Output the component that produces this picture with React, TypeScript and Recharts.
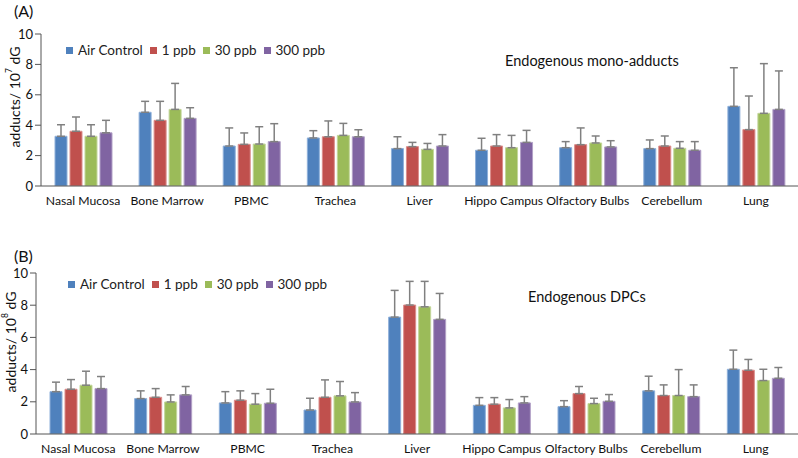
import React from 'react';
import { BarChart, Bar, XAxis, YAxis, ErrorBar, Legend } from 'recharts';

const categories = ['Nasal Mucosa', 'Bone Marrow', 'PBMC', 'Trachea', 'Liver', 'Hippo Campus', 'Olfactory Bulbs', 'Cerebellum', 'Lung'];
const seriesNames = ['Air Control', '1 ppb', '30 ppb', '300 ppb'];
const yTicks = [0, 2, 4, 6, 8, 10];

const monoAir = [3.27, 4.85, 2.63, 3.16, 2.46, 2.35, 2.52, 2.46, 5.24];
const monoAirErr = [0.76, 0.72, 1.19, 0.48, 0.78, 0.79, 0.40, 0.57, 2.54];
const mono1 = [3.6, 4.32, 2.74, 3.24, 2.59, 2.63, 2.72, 2.63, 3.71];
const mono1Err = [0.94, 1.25, 0.75, 1.04, 0.28, 0.75, 1.10, 0.66, 2.21];
const mono30 = [3.27, 5.04, 2.76, 3.33, 2.41, 2.52, 2.83, 2.48, 4.78];
const mono30Err = [0.76, 1.71, 1.14, 0.79, 0.39, 0.81, 0.46, 0.44, 3.27];
const mono300 = [3.5, 4.45, 2.92, 3.24, 2.63, 2.87, 2.57, 2.35, 5.04];
const mono300Err = [0.82, 0.70, 1.18, 0.46, 0.75, 0.79, 0.41, 0.57, 2.53];

const dpcAir = [2.63, 2.2, 1.93, 1.49, 7.26, 1.78, 1.7, 2.68, 4.02];
const dpcAirErr = [0.59, 0.48, 0.7, 0.73, 1.66, 0.48, 0.37, 0.91, 1.19];
const dpc1 = [2.78, 2.28, 2.1, 2.28, 8.01, 1.85, 2.51, 2.39, 3.96];
const dpc1Err = [0.6, 0.54, 0.58, 1.08, 1.47, 0.41, 0.44, 0.66, 0.67];
const dpc30 = [3.03, 1.99, 1.85, 2.37, 7.9, 1.62, 1.89, 2.39, 3.32];
const dpc30Err = [0.87, 0.44, 0.66, 0.89, 1.58, 0.52, 0.33, 1.61, 0.7];
const dpc300 = [2.82, 2.43, 1.91, 1.99, 7.12, 1.93, 2.03, 2.32, 3.46];
const dpc300Err = [0.75, 0.52, 0.87, 0.58, 1.61, 0.39, 0.42, 0.73, 0.67];

const colors = ['#4F81BD', '#C0504D', '#9BBB59', '#8064A2'];
const borders = ['#8FB0DA', '#DB8E8C', '#C3D69B', '#B2A1C7'];
const FONT = 'Lato, "Open Sans", sans-serif';

function build(vals: number[][], errs: number[][]) {
  return categories.map((c, i) => {
    const row: any = { name: c };
    vals.forEach((v, k) => {
      row['s' + k] = v[i];
      row['e' + k] = [0, errs[k][i]];
    });
    return row;
  });
}

const monoData = build([monoAir, mono1, mono30, mono300], [monoAirErr, mono1Err, mono30Err, mono300Err]);
const dpcData = build([dpcAir, dpc1, dpc30, dpc300], [dpcAirErr, dpc1Err, dpc30Err, dpc300Err]);

const LegendContent = () => (
  <div style={{ display: 'flex', alignItems: 'center', fontFamily: FONT, fontSize: 13.5, color: '#222', whiteSpace: 'nowrap' }}>
    {seriesNames.map((n, i) => (
      <span key={n} style={{ display: 'inline-flex', alignItems: 'center', marginRight: 7 }}>
        <span style={{ display: 'inline-block', width: 7, height: 7, background: colors[i], marginRight: 5 }} />
        {n}
      </span>
    ))}
  </div>
);

function Panel(props: { data: any[]; exp: string; yAxisW: number; top: number; height: number; plotTop: number; legendLeft: number; legendTop: number; labelX: number; labelY: number }) {
  const { data, exp, yAxisW, top, height, plotTop, legendLeft, legendTop, labelX, labelY } = props;
  return (
    <div style={{ position: 'absolute', left: 0, top }}>
      <BarChart width={798} height={height} data={data} margin={{ top: plotTop, right: 0, left: 0, bottom: 0 }} barSize={12} barGap={3}>
        <XAxis dataKey="name" tickLine={false} axisLine={{ stroke: '#555', strokeWidth: 1 }} interval={0} height={24}
          tick={{ fontFamily: FONT, fontSize: 12.2, fill: '#111' }} tickMargin={4} />
        <YAxis domain={[0, 10]} ticks={yTicks} width={yAxisW} axisLine={{ stroke: '#555' }} tickLine={{ stroke: '#555' }} tickSize={6} allowDataOverflow
          tick={{ fontFamily: FONT, fontSize: 13, fill: '#111' }}
          label={{
            content: () => (
              <text x={labelX} y={labelY} transform={`rotate(-90 ${labelX} ${labelY})`} textAnchor="middle" dominantBaseline="central" fontFamily={FONT} fontSize={14} fill="#111">
                adducts/ 10<tspan fontSize={8.5} dy={-5}>{exp}</tspan><tspan dy={5}> dG</tspan>
              </text>
            ),
          }} />
        <Legend layout="horizontal" verticalAlign="middle" align="center" content={<LegendContent />}
          wrapperStyle={{ position: 'absolute', left: legendLeft, top: legendTop, width: 'auto' }} />
        {seriesNames.map((n, k) => (
          <Bar key={n} dataKey={'s' + k} name={n} fill={colors[k]} stroke={borders[k]} strokeWidth={1} isAnimationActive={false}>
            <ErrorBar dataKey={'e' + k} direction="y" width={4} stroke="#808080" strokeWidth={1.5} />
          </Bar>
        ))}
      </BarChart>
    </div>
  );
}

export default function App() {
  return (
    <div style={{ position: 'absolute', left: 0, top: 0, width: 798, height: 458, background: '#fff', overflow: 'hidden' }}>
      <div style={{ position: 'absolute', left: 14, top: 1, fontFamily: FONT, fontSize: 16, color: '#111' }}>(A)</div>
      <div style={{ position: 'absolute', left: 14, top: 246, fontFamily: FONT, fontSize: 16, color: '#111' }}>(B)</div>
      <Panel data={monoData} exp="7" yAxisW={41} top={0} height={210} plotTop={34} legendLeft={66} legendTop={42} labelX={14} labelY={97} />
      <Panel data={dpcData} exp="8" yAxisW={36} top={225} height={233} plotTop={48} legendLeft={68} legendTop={51} labelX={10} labelY={117} />
      <div style={{ position: 'absolute', left: 505, top: 52, fontFamily: FONT, fontSize: 14.5, color: '#111' }}>Endogenous mono-adducts</div>
      <div style={{ position: 'absolute', left: 528, top: 288, fontFamily: FONT, fontSize: 14.5, color: '#111' }}>Endogenous DPCs</div>
    </div>
  );
}
